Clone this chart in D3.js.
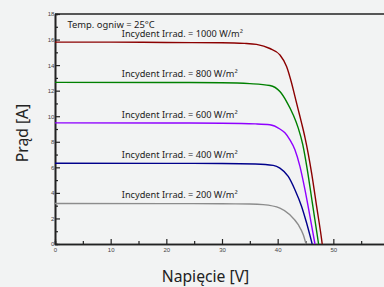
<!DOCTYPE html>
<html>
<head>
<meta charset="utf-8">
<script src="https://cdn.jsdelivr.net/npm/d3@7"></script>
<style>
  html, body { margin: 0; padding: 0; background: #f2f3f3; }
  svg { display: block; font-family: "Noto Sans", sans-serif; }
</style>
</head>
<body>
<svg id="chart"></svg>
<script>
// I-V curves: [voltage V, current A]
const curve1000 = [[0,15.8],[10,15.8],[20,15.77],[30,15.75],[34,15.7],[36.2,15.62],[38.6,15.3],[40.4,14.8],[41.6,13.9],[42.5,12.6],[43.1,11.55],[43.7,10.5],[44.3,9.46],[44.9,8.35],[46.1,5.55],[47,2.94],[47.9,0.34],[48,0]];
const curve800 = [[0,12.65],[20,12.64],[30,12.62],[35,12.55],[38.6,12.4],[40.4,11.93],[41.6,11.15],[42.8,10.1],[43.7,9.07],[44.5,7.8],[45.35,5.75],[46.2,3.3],[47.35,0]];
const curve600 = [[0,9.48],[20,9.47],[30,9.45],[36,9.4],[38.6,9.33],[40.4,9.0],[41.3,8.7],[42.2,8.15],[43.1,7.37],[44,6.07],[44.9,4.25],[45.8,2.16],[46.7,0]];
const curve400 = [[0,6.32],[20,6.31],[30,6.3],[36,6.26],[39.2,6.15],[40.4,5.94],[41.9,5.29],[43.1,4.25],[44.3,2.94],[45.2,1.64],[46.2,0]];
const curve200 = [[0,3.17],[20,3.16],[30,3.15],[35,3.13],[37.4,3.08],[40.4,2.81],[42.2,2.29],[43.7,1.51],[44.6,0.73],[45.1,0]];

const seriesNames = ["Incydent Irrad. = 1000 W/m²", "Incydent Irrad. = 800 W/m²", "Incydent Irrad. = 600 W/m²", "Incydent Irrad. = 400 W/m²", "Incydent Irrad. = 200 W/m²"];
const seriesData = [curve1000, curve800, curve600, curve400, curve200];
const seriesColors = ["#8b0000", "#008000", "#8f00ff", "#00008b", "#8c8c8c"];
const xTicks = [0, 10, 20, 30, 40, 50];
const yTicks = [0, 2, 4, 6, 8, 10, 12, 14, 16, 18];
const tempLabel = "Temp. ogniw = 25°C";

const w = 384, h = 287;
const margin = { top: 14, left: 55, bottom: 43 };

const svg = d3.select("#chart").attr("width", w).attr("height", h);

const x = d3.scaleLinear().domain([0, 60]).range([margin.left, 389]);
const y = d3.scaleLinear().domain([0, 18]).range([h - margin.bottom, margin.top]);

// minor ticks
const xAxisMinor = d3.axisBottom(x).tickValues(d3.range(5, 60, 10)).tickSize(-3).tickFormat("");
const yAxisMinor = d3.axisLeft(y).tickValues(d3.range(1, 18, 2)).tickSize(-3).tickFormat("");
svg.append("g").attr("transform", `translate(0,${y(0)})`).call(xAxisMinor);
svg.append("g").attr("transform", `translate(${x(0)},0)`).call(yAxisMinor);

const xAxis = d3.axisBottom(x).tickValues(xTicks).tickSize(-5).tickPadding(3).tickSizeOuter(0);
const yAxis = d3.axisLeft(y).tickValues(yTicks).tickSize(-5).tickPadding(3).tickSizeOuter(0);
const gx = svg.append("g").attr("transform", `translate(0,${y(0)})`).call(xAxis);
const gy = svg.append("g").attr("transform", `translate(${x(0)},0)`).call(yAxis);

svg.selectAll(".tick line").attr("stroke", "#222").attr("stroke-width", 1.2);
svg.selectAll(".domain").attr("stroke", "#222").attr("stroke-width", 1.6);
gx.selectAll("text").attr("font-size", 6).attr("fill", "#444").attr("dy", "0.9em");
gy.selectAll("text").attr("font-size", 6).attr("fill", "#444").attr("dx", "0.4em");

// top frame
svg.append("line")
  .attr("x1", x(0)).attr("x2", w)
  .attr("y1", y(18)).attr("y2", y(18))
  .attr("stroke", "#222").attr("stroke-width", 1.6);

const line = d3.line()
  .x((d) => x(d[0]))
  .y((d) => y(d[1]))
  .curve(d3.curveMonotoneX);

svg.append("g")
  .selectAll("path")
  .data(seriesData)
  .join("path")
  .attr("d", line)
  .attr("fill", "none")
  .attr("stroke", (d, i) => seriesColors[i])
  .attr("stroke-width", 1.4);

svg.append("g")
  .selectAll("text")
  .data(seriesNames)
  .join("text")
  .attr("x", x(12))
  .attr("y", (d, i) => y(seriesData[i][0][1] + 0.42))
  .attr("font-size", 9.2)
  .attr("fill", "#222")
  .text((d) => d);

svg.append("text")
  .attr("x", 67.5).attr("y", 28)
  .attr("font-size", 9.4)
  .attr("fill", "#222")
  .text(tempLabel);

svg.append("text")
  .attr("x", 205.5)
  .attr("y", 282)
  .attr("text-anchor", "middle")
  .attr("font-size", 15.7)
  .attr("fill", "#222")
  .text("Napięcie [V]");

svg.append("text")
  .attr("transform", `translate(28,133) rotate(-90)`)
  .attr("text-anchor", "middle")
  .attr("font-size", 15.7)
  .attr("fill", "#222")
  .text("Prąd [A]");
</script>
</body>
</html>
